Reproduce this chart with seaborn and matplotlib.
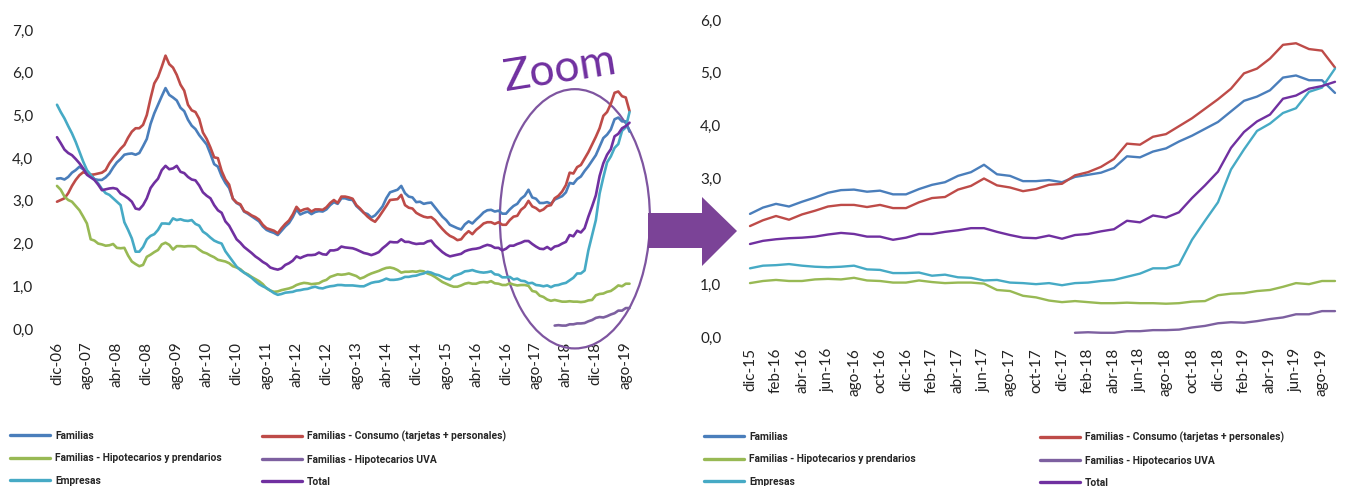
import numpy as np
import pandas as pd
import matplotlib.pyplot as plt
import seaborn as sns
from matplotlib.lines import Line2D
from matplotlib.patches import Ellipse, Polygon

sns.set_style("white")
plt.rcParams['font.family'] = ['Lato', 'DejaVu Sans']

# datos mensuales dic-06 .. sep-19 (%)
inicio = "2006-12-01"

familias = [
    3.52, 3.53, 3.50, 3.56, 3.66, 3.72, 3.80, 3.74, 3.66, 3.61, 3.51, 3.49,
    3.49, 3.55, 3.64, 3.78, 3.90, 3.98, 4.08, 4.10, 4.11, 4.08, 4.12, 4.28,
    4.45, 4.80, 5.05, 5.25, 5.45, 5.64, 5.48, 5.42, 5.35, 5.18, 5.10, 4.90,
    4.76, 4.68, 4.54, 4.43, 4.32, 4.10, 3.86, 3.80, 3.58, 3.42, 3.30, 3.05,
    2.95, 2.90, 2.75, 2.70, 2.64, 2.58, 2.52, 2.40, 2.32, 2.28, 2.25, 2.20,
    2.30, 2.40, 2.48, 2.62, 2.80, 2.68, 2.72, 2.75, 2.69, 2.74, 2.76, 2.75,
    2.80, 2.90, 2.97, 2.93, 3.06, 3.06, 3.03, 3.02, 2.88, 2.80, 2.72, 2.69,
    2.61, 2.66, 2.76, 2.87, 3.06, 3.20, 3.23, 3.26, 3.35, 3.18, 3.10, 3.08,
    2.97, 2.98, 2.93, 2.95, 2.96, 2.85, 2.74, 2.63, 2.55, 2.44, 2.40, 2.36,
    2.33, 2.45, 2.52, 2.47, 2.56, 2.64, 2.73, 2.78, 2.79, 2.75, 2.77, 2.70,
    2.70, 2.80, 2.88, 2.93, 3.05, 3.12, 3.26, 3.08, 3.05, 2.95, 2.95, 2.97,
    2.93, 3.03, 3.07, 3.11, 3.20, 3.42, 3.40, 3.51, 3.57, 3.70, 3.81, 3.94,
    4.07, 4.27, 4.47, 4.55, 4.67, 4.91, 4.95, 4.86, 4.86, 4.62]

consumo = [
    2.98, 3.02, 3.06, 3.18, 3.35, 3.49, 3.60, 3.67, 3.64, 3.61, 3.62, 3.64,
    3.66, 3.72, 3.88, 4.00, 4.11, 4.22, 4.31, 4.48, 4.62, 4.70, 4.70, 4.78,
    5.01, 5.40, 5.75, 5.90, 6.14, 6.40, 6.20, 6.12, 5.95, 5.72, 5.58, 5.25,
    5.12, 5.08, 4.92, 4.60, 4.45, 4.25, 4.02, 4.00, 3.70, 3.50, 3.38, 3.05,
    2.96, 2.92, 2.76, 2.72, 2.66, 2.62, 2.56, 2.44, 2.36, 2.33, 2.30, 2.24,
    2.36, 2.46, 2.54, 2.68, 2.86, 2.76, 2.80, 2.82, 2.75, 2.80, 2.80, 2.79,
    2.85, 2.95, 3.02, 2.95, 3.10, 3.10, 3.08, 3.05, 2.90, 2.82, 2.72, 2.63,
    2.56, 2.51, 2.62, 2.75, 2.88, 3.02, 3.03, 3.04, 3.14, 2.90, 2.84, 2.82,
    2.72, 2.67, 2.63, 2.61, 2.62, 2.55, 2.44, 2.34, 2.25, 2.18, 2.14, 2.08,
    2.10, 2.21, 2.29, 2.22, 2.32, 2.39, 2.47, 2.50, 2.50, 2.46, 2.50, 2.44,
    2.44, 2.55, 2.63, 2.65, 2.79, 2.86, 3.00, 2.87, 2.83, 2.76, 2.80, 2.88,
    2.90, 3.06, 3.12, 3.22, 3.37, 3.66, 3.64, 3.79, 3.84, 3.99, 4.14, 4.32,
    4.50, 4.70, 4.99, 5.08, 5.27, 5.53, 5.56, 5.45, 5.42, 5.10]

hipotecarios = [
    3.35, 3.26, 3.10, 3.02, 2.98, 2.88, 2.78, 2.63, 2.47, 2.10, 2.07, 2.00,
    1.98, 1.95, 1.96, 1.99, 1.90, 1.89, 1.90, 1.72, 1.58, 1.52, 1.47, 1.50,
    1.69, 1.74, 1.80, 1.85, 1.98, 2.02, 1.97, 1.86, 1.94, 1.94, 1.93, 1.94,
    1.94, 1.93, 1.86, 1.80, 1.77, 1.72, 1.68, 1.62, 1.60, 1.58, 1.54, 1.47,
    1.44, 1.40, 1.32, 1.28, 1.22, 1.17, 1.12, 1.05, 0.95, 0.90, 0.87, 0.88,
    0.91, 0.93, 0.95, 0.98, 1.03, 1.06, 1.08, 1.07, 1.05, 1.06, 1.07, 1.12,
    1.15, 1.22, 1.25, 1.28, 1.27, 1.28, 1.30, 1.27, 1.24, 1.18, 1.21, 1.26,
    1.30, 1.33, 1.36, 1.40, 1.43, 1.44, 1.42, 1.38, 1.32, 1.34, 1.34, 1.35,
    1.34, 1.36, 1.35, 1.30, 1.27, 1.22, 1.16, 1.10, 1.06, 1.02, 0.99, 0.99,
    1.02, 1.06, 1.08, 1.06, 1.06, 1.09, 1.10, 1.09, 1.12, 1.07, 1.06, 1.03,
    1.03, 1.07, 1.04, 1.02, 1.03, 1.03, 1.01, 0.89, 0.87, 0.78, 0.75, 0.69,
    0.66, 0.68, 0.66, 0.64, 0.64, 0.65, 0.64, 0.64, 0.63, 0.64, 0.67, 0.68,
    0.79, 0.82, 0.83, 0.87, 0.89, 0.95, 1.02, 1.00, 1.06, 1.06]

# hipotecarios UVA: desde ene-18
uva_inicio = "2018-01-01"
uva = [0.08, 0.09, 0.08, 0.08, 0.11, 0.11, 0.13, 0.13, 0.14, 0.18, 0.21,
       0.26, 0.28, 0.27, 0.30, 0.34, 0.37, 0.43, 0.43, 0.49, 0.49]

empresas = [
    5.25, 5.08, 4.93, 4.75, 4.58, 4.38, 4.15, 3.92, 3.72, 3.61, 3.50, 3.41,
    3.28, 3.18, 3.14, 3.06, 2.98, 2.90, 2.50, 2.32, 2.12, 1.81, 1.81, 1.92,
    2.10, 2.18, 2.22, 2.32, 2.47, 2.47, 2.46, 2.59, 2.55, 2.57, 2.54, 2.53,
    2.55, 2.46, 2.42, 2.28, 2.22, 2.14, 2.07, 2.03, 2.00, 1.82, 1.70, 1.58,
    1.46, 1.38, 1.32, 1.26, 1.20, 1.12, 1.05, 1.00, 0.96, 0.90, 0.84, 0.80,
    0.82, 0.85, 0.86, 0.87, 0.90, 0.91, 0.93, 0.94, 0.97, 0.99, 0.96, 0.95,
    0.98, 1.00, 1.01, 1.03, 1.03, 1.02, 1.02, 1.02, 1.01, 1.00, 1.00, 1.04,
    1.08, 1.10, 1.11, 1.14, 1.18, 1.15, 1.15, 1.16, 1.18, 1.22, 1.22, 1.24,
    1.25, 1.28, 1.30, 1.34, 1.32, 1.28, 1.26, 1.22, 1.18, 1.16, 1.24, 1.27,
    1.30, 1.35, 1.36, 1.38, 1.35, 1.33, 1.32, 1.33, 1.35, 1.28, 1.27, 1.21,
    1.21, 1.22, 1.16, 1.18, 1.13, 1.12, 1.07, 1.08, 1.03, 1.02, 1.00, 1.02,
    0.98, 1.02, 1.03, 1.06, 1.08, 1.14, 1.20, 1.30, 1.30, 1.37, 1.84, 2.20,
    2.55, 3.17, 3.55, 3.90, 4.04, 4.24, 4.33, 4.64, 4.72, 5.08]

total = [
    4.49, 4.35, 4.20, 4.12, 4.07, 3.98, 3.88, 3.76, 3.61, 3.55, 3.49, 3.38,
    3.25, 3.27, 3.29, 3.30, 3.28, 3.17, 3.12, 3.06, 2.98, 2.82, 2.80, 2.90,
    3.06, 3.30, 3.42, 3.52, 3.72, 3.82, 3.74, 3.76, 3.82, 3.68, 3.65, 3.56,
    3.50, 3.48, 3.36, 3.20, 3.12, 3.06, 2.90, 2.78, 2.72, 2.52, 2.42, 2.26,
    2.10, 2.02, 1.92, 1.85, 1.78, 1.70, 1.64, 1.57, 1.52, 1.44, 1.41, 1.39,
    1.42, 1.50, 1.54, 1.60, 1.70, 1.66, 1.70, 1.73, 1.73, 1.74, 1.79, 1.75,
    1.74, 1.84, 1.84, 1.86, 1.93, 1.91, 1.90, 1.89, 1.86, 1.82, 1.78, 1.76,
    1.73, 1.76, 1.80, 1.89, 1.96, 2.04, 2.03, 2.03, 2.10, 2.04, 2.04, 2.01,
    1.99, 2.00, 2.00, 2.05, 2.07, 1.96, 1.88, 1.80, 1.74, 1.70, 1.72, 1.74,
    1.76, 1.82, 1.85, 1.87, 1.88, 1.90, 1.94, 1.97, 1.95, 1.90, 1.90, 1.84,
    1.88, 1.95, 1.95, 1.99, 2.02, 2.06, 2.06, 1.99, 1.93, 1.88, 1.87, 1.92,
    1.86, 1.93, 1.95, 2.00, 2.04, 2.20, 2.17, 2.30, 2.26, 2.36, 2.63, 2.87,
    3.13, 3.58, 3.88, 4.08, 4.21, 4.51, 4.57, 4.70, 4.75, 4.83]

series = ["Familias", "Familias - Consumo (tarjetas + personales)",
          "Familias - Hipotecarios y prendarios", "Familias - Hipotecarios UVA",
          "Empresas", "Total"]
colores = ["#4A7EBB", "#BE4B48", "#98B954", "#7D60A0", "#46AAC5", "#7030A0"]
zoom_inicio = "2015-12-01"

meses = ["ene", "feb", "mar", "abr", "may", "jun", "jul", "ago", "sep", "oct", "nov", "dic"]

fechas = pd.date_range(inicio, periods=len(familias), freq="MS")
etiquetas = [f"{meses[f.month - 1]}-{f.strftime('%y')}" for f in fechas]

df = pd.DataFrame({"fecha": fechas, "Familias": familias,
                   series[1]: consumo, series[2]: hipotecarios,
                   "Empresas": empresas, "Total": total})
uva_df = pd.DataFrame({"fecha": pd.date_range(uva_inicio, periods=len(uva), freq="MS"),
                       series[3]: uva})
df = df.merge(uva_df, on="fecha", how="left")
df["idx"] = np.arange(len(df))
largo = df.melt(id_vars=["fecha", "idx"], value_vars=series,
                var_name="serie", value_name="valor").dropna()
paleta = dict(zip(series, colores))

fig = plt.figure(figsize=(13.68, 4.86), dpi=100)
W, H = 1368, 486

def fmt_y(v):
    return f"{v:.1f}".replace(".", ",")

# panel izquierdo: serie completa
ax1 = fig.add_axes([50 / W, 157 / H, 590 / W, 299 / H])
sns.lineplot(data=largo, x="idx", y="valor", hue="serie", palette=paleta,
             hue_order=series, linewidth=1.9, legend=False, ax=ax1)
ax1.set_xlim(-1.87, 155.8)
ax1.set_ylim(0, 7)
yt = np.arange(0, 7.01, 1.0)
ax1.set_yticks(yt)
ax1.set_yticklabels([fmt_y(v) for v in yt])
xt = np.arange(0, len(df), 8)
ax1.set_xticks(xt)
ax1.set_xticklabels([etiquetas[i] for i in xt], rotation=90, va="top", ha="center")
ax1.tick_params(axis="y", length=0, pad=12, labelsize=11, labelcolor="#222222")
ax1.tick_params(axis="x", length=0, pad=9, labelsize=11, labelcolor="#222222")

# elipse y texto "Zoom"
ax1.add_patch(Ellipse((138.4, 2.58), 40.1, 6.07, fill=False, edgecolor="#7E55A0",
                      linewidth=1.6, clip_on=False))
ax1.text(134.4, 6.07, "Zoom", color="#7030A0", fontsize=32, rotation=9,
         ha="center", va="center")

# panel derecho: zoom desde dic-15
z0 = int(np.where(fechas == pd.Timestamp(zoom_inicio))[0][0])
zoom = largo[largo["idx"] >= z0].copy()
zoom["idx"] = zoom["idx"] - z0
ax2 = fig.add_axes([745 / W, 149 / H, 600 / W, 317 / H])
sns.lineplot(data=zoom, x="idx", y="valor", hue="serie", palette=paleta,
             hue_order=series, linewidth=1.7, legend=False, ax=ax2)
ax2.set_xlim(-0.385, 45.77)
ax2.set_ylim(0, 6)
yt2 = np.arange(0, 6.01, 1.0)
ax2.set_yticks(yt2)
ax2.set_yticklabels([fmt_y(v) for v in yt2])
xt2 = np.arange(0, len(df) - z0 - 1, 2)
ax2.set_xticks(xt2)
ax2.set_xticklabels([etiquetas[z0 + i] for i in xt2], rotation=90, va="top", ha="center")
ax2.tick_params(axis="y", length=0, pad=17, labelsize=11, labelcolor="#222222")
ax2.tick_params(axis="x", length=0, pad=8, labelsize=11, labelcolor="#222222")

for ax in (ax1, ax2):
    sns.despine(ax=ax, left=True, bottom=True)
    ax.set_xlabel("")
    ax.set_ylabel("")
    ax.grid(False)

# flecha
flecha_px = [(648, 213), (702, 213), (702, 197), (737, 231), (702, 266), (702, 248), (648, 248)]
fig.add_artist(Polygon([(x / W, 1 - y / H) for x, y in flecha_px], closed=True,
                       facecolor="#7B4397", edgecolor="none", transform=fig.transFigure))

# leyendas (dos columnas por panel)
handles = {s: Line2D([], [], color=c, linewidth=2.4) for s, c in zip(series, colores)}
col_a = [series[0], series[2], series[4]]
col_b = [series[1], series[3], series[5]]
for x0, y0, cols in [(10, 431, col_a), (262, 431, col_b), (704, 432, col_a), (1040, 432, col_b)]:
    fig.legend([handles[s] for s in cols], cols, loc="upper left",
               bbox_to_anchor=(x0 / W, 1 - y0 / H), frameon=False,
               borderaxespad=0, borderpad=0, handlelength=3.9, handletextpad=0.5,
               labelspacing=1.2,
               prop={"family": ["Roboto", "DejaVu Sans"], "weight": "bold", "size": 7.4})

fig.savefig("out.png", dpi=100)
